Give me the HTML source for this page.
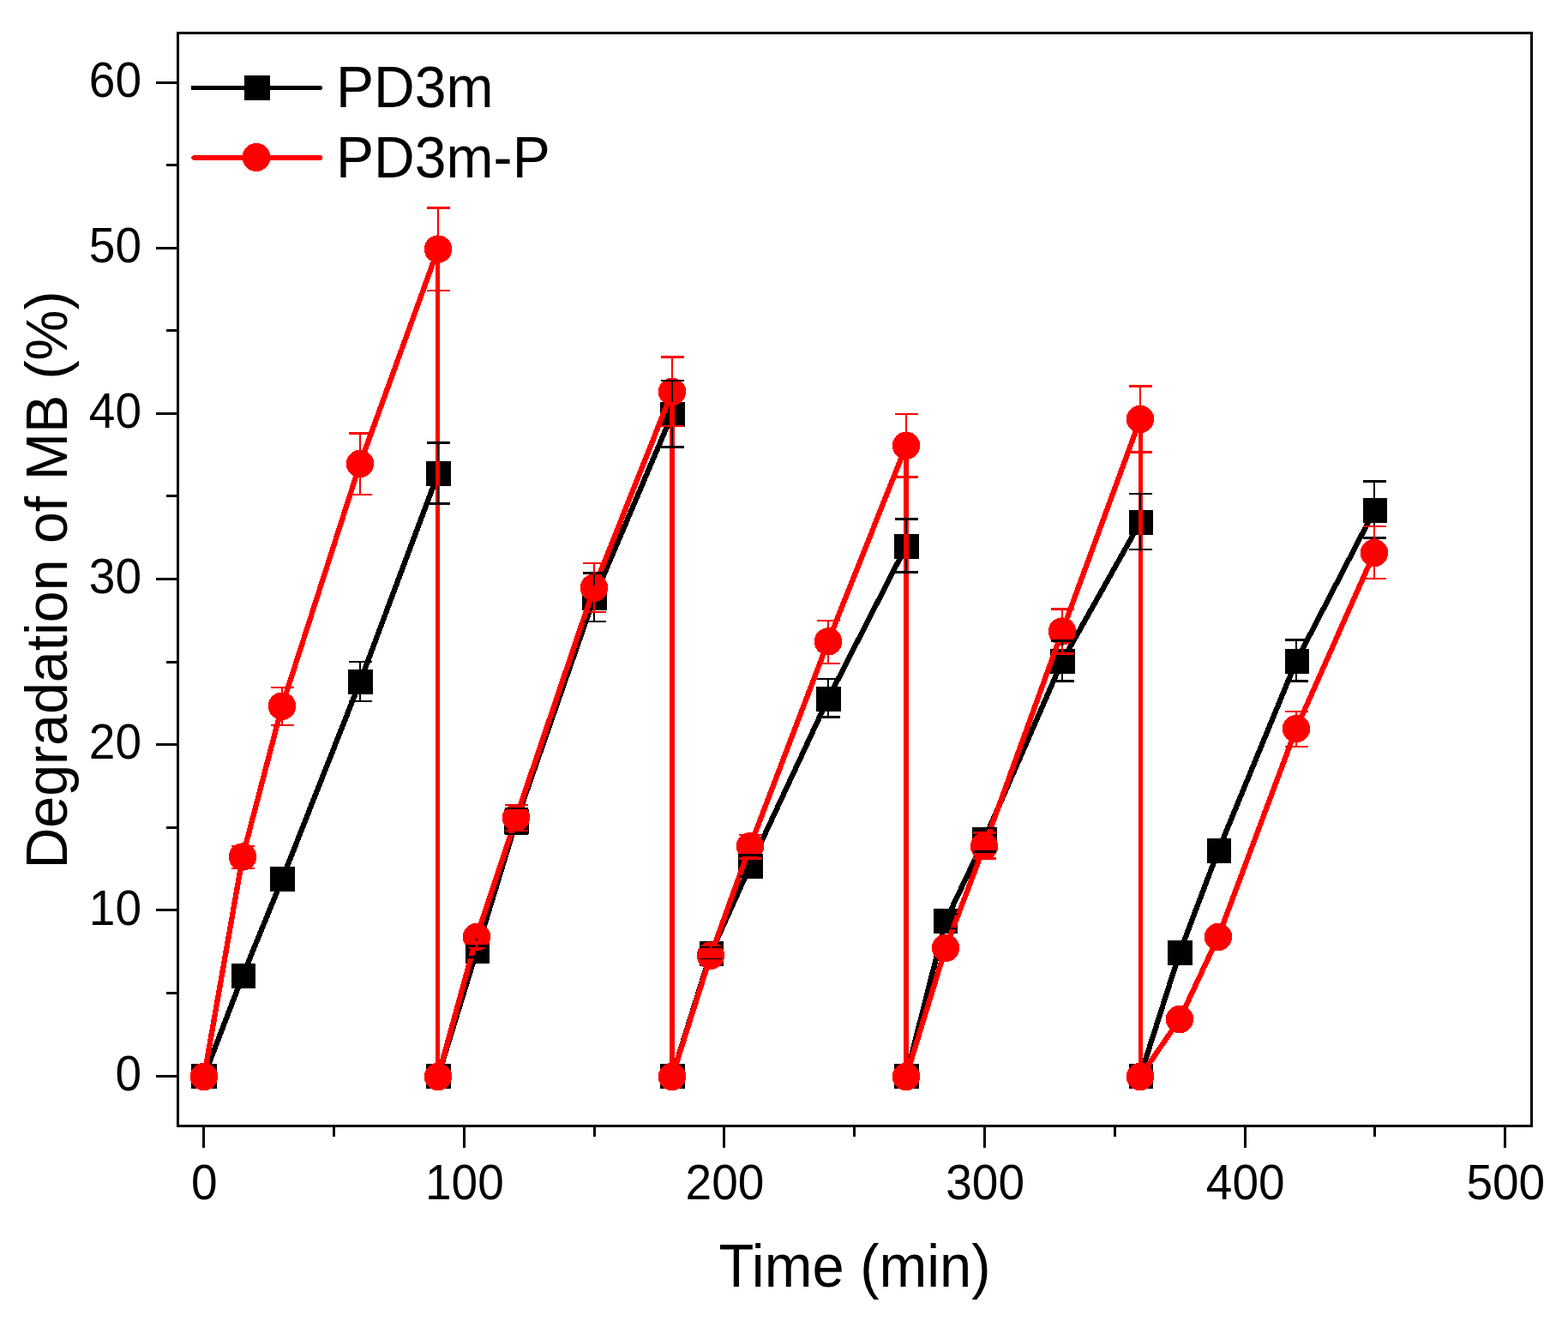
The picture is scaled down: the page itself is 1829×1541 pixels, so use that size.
<!DOCTYPE html>
<html lang="en"><head><meta charset="utf-8"><title>Degradation of MB (%) vs Time (min)</title>
<style>
html,body{margin:0;padding:0;background:#fff;}
body{width:1829px;height:1541px;overflow:hidden;}
svg{display:block;}
text{font-family:"Liberation Sans",Arial,Helvetica,sans-serif;fill:#000;}
</style></head><body>
<svg width="1829" height="1541" viewBox="0 0 1829 1541" shape-rendering="crispEdges">
<rect x="0" y="0" width="1829" height="1541" fill="#ffffff"/>
<g stroke="#000" stroke-width="3" fill="none" stroke-linecap="butt">
<rect x="207.5" y="38.5" width="1578.5" height="1275"/>
<line x1="182" y1="1255.5" x2="207.5" y2="1255.5"/>
<line x1="194" y1="1158.5" x2="207.5" y2="1158.5"/>
<line x1="182" y1="1061.5" x2="207.5" y2="1061.5"/>
<line x1="194" y1="965.5" x2="207.5" y2="965.5"/>
<line x1="182" y1="868.5" x2="207.5" y2="868.5"/>
<line x1="194" y1="772.5" x2="207.5" y2="772.5"/>
<line x1="182" y1="675.5" x2="207.5" y2="675.5"/>
<line x1="194" y1="578.5" x2="207.5" y2="578.5"/>
<line x1="182" y1="482.5" x2="207.5" y2="482.5"/>
<line x1="194" y1="385.5" x2="207.5" y2="385.5"/>
<line x1="182" y1="289.5" x2="207.5" y2="289.5"/>
<line x1="194" y1="192.5" x2="207.5" y2="192.5"/>
<line x1="182" y1="96.5" x2="207.5" y2="96.5"/>
<line x1="237.6" y1="1313.5" x2="237.6" y2="1339"/>
<line x1="389.4" y1="1313.5" x2="389.4" y2="1326"/>
<line x1="541.2" y1="1313.5" x2="541.2" y2="1339"/>
<line x1="693" y1="1313.5" x2="693" y2="1326"/>
<line x1="844.8" y1="1313.5" x2="844.8" y2="1339"/>
<line x1="996.6" y1="1313.5" x2="996.6" y2="1326"/>
<line x1="1148.4" y1="1313.5" x2="1148.4" y2="1339"/>
<line x1="1300.2" y1="1313.5" x2="1300.2" y2="1326"/>
<line x1="1452" y1="1313.5" x2="1452" y2="1339"/>
<line x1="1603.8" y1="1313.5" x2="1603.8" y2="1326"/>
<line x1="1755.6" y1="1313.5" x2="1755.6" y2="1339"/>
</g>
<text transform="translate(165,1271.7) scale(1,1.04)" font-size="55" text-anchor="end">0</text>
<text transform="translate(165,1078.53) scale(1,1.04)" font-size="55" text-anchor="end">10</text>
<text transform="translate(165,885.366) scale(1,1.04)" font-size="55" text-anchor="end">20</text>
<text transform="translate(165,692.199) scale(1,1.04)" font-size="55" text-anchor="end">30</text>
<text transform="translate(165,499.032) scale(1,1.04)" font-size="55" text-anchor="end">40</text>
<text transform="translate(165,305.865) scale(1,1.04)" font-size="55" text-anchor="end">50</text>
<text transform="translate(165,112.698) scale(1,1.04)" font-size="55" text-anchor="end">60</text>
<text transform="translate(238.3,1399.4) scale(1,1.04)" font-size="55" text-anchor="middle">0</text>
<text transform="translate(541.9,1399.4) scale(1,1.04)" font-size="55" text-anchor="middle">100</text>
<text transform="translate(845.5,1399.4) scale(1,1.04)" font-size="55" text-anchor="middle">200</text>
<text transform="translate(1149.1,1399.4) scale(1,1.04)" font-size="55" text-anchor="middle">300</text>
<text transform="translate(1452.7,1399.4) scale(1,1.04)" font-size="55" text-anchor="middle">400</text>
<text transform="translate(1756.3,1399.4) scale(1,1.04)" font-size="55" text-anchor="middle">500</text>
<text transform="translate(997,1501) scale(1,1.04)" font-size="66.9" text-anchor="middle">Time (min)</text>
<text transform="translate(78,676.5) rotate(-90) scale(1,1.04)" font-size="66.3" text-anchor="middle">Degradation of MB (%)</text>
<path d="M238 1255.5L283 1138.5M283 1138.5L329 1025.9M329 1025.9L420 795.3M420 795.3L511 552.3M511 1255.5L556 1109.5M556 1109.5L602 958.4M602 958.4L693 697.3M693 697.3L784 483.5M784 1255.5L829 1112.3M829 1112.3L875 1010.2M875 1010.2L966 815M966 815L1057 637M1057 1255.5L1103 1074.5M1103 1074.5L1148 979.7M1148 979.7L1239 771.2M1239 771.2L1330 609.3M1330 1255.5L1376 1111.5M1376 1111.5L1421 992.4M1421 992.4L1512 771.4M1512 771.4L1603 595.5" fill="none" stroke="#000" stroke-width="6.3" stroke-linecap="round"/>
<path d="M784 483.5V1255.5M1057 637V1255.5M1330.4 609.3V1255.5" fill="none" stroke="#000" stroke-width="5.8" stroke-linecap="butt"/>
<path d="M510.5 552.3V1255.5" fill="none" stroke="#000" stroke-width="4.9" stroke-linecap="butt"/>
<g fill="#000">
<rect x="223" y="1241" width="30" height="29"/>
<rect x="270" y="1124" width="28" height="29"/>
<rect x="315" y="1011.4" width="29" height="29"/>
<rect x="406" y="780.8" width="29" height="29"/>
<rect x="497" y="537.8" width="29" height="29"/>
<rect x="497" y="1241" width="29" height="29"/>
<rect x="543" y="1095" width="28" height="29"/>
<rect x="588" y="943.9" width="29" height="29"/>
<rect x="679" y="682.8" width="29" height="29"/>
<rect x="770" y="469" width="29" height="29"/>
<rect x="770" y="1241" width="29" height="29"/>
<rect x="816" y="1097.8" width="28" height="29"/>
<rect x="861" y="995.7" width="29" height="29"/>
<rect x="952" y="800.5" width="29" height="29"/>
<rect x="1043" y="622.5" width="29" height="29"/>
<rect x="1043" y="1241" width="29" height="29"/>
<rect x="1089" y="1060" width="28" height="29"/>
<rect x="1134" y="965.2" width="29" height="29"/>
<rect x="1225" y="756.7" width="29" height="29"/>
<rect x="1317" y="594.8" width="28" height="29"/>
<rect x="1317" y="1241" width="28" height="29"/>
<rect x="1362" y="1097" width="29" height="29"/>
<rect x="1408" y="977.9" width="28" height="29"/>
<rect x="1499" y="756.9" width="28" height="29"/>
<rect x="1590" y="581" width="28" height="29"/>
</g>
<path d="M238 1256L283 999.5M283 999.5L329 823.7M329 823.7L420 541M420 541L511 290.6M511 1256L556 1093M556 1093L602 954M602 954L693 685.7M693 685.7L784 457M784 1256L829 1114.7M829 1114.7L875 987.1M875 987.1L966 748.4M966 748.4L1057 519.8M1057 1256L1103 1105.8M1103 1105.8L1148 987.3M1148 987.3L1239 736.5M1239 736.5L1330 489M1330 1256L1376 1189M1376 1189L1421 1093M1421 1093L1512 850.1M1512 850.1L1603 645" fill="none" stroke="#ff0000" stroke-width="6.3" stroke-linecap="round"/>
<path d="M784 457V1256M1057 519.8V1256M1330.4 489V1256" fill="none" stroke="#ff0000" stroke-width="5.8" stroke-linecap="butt"/>
<path d="M510.5 290.6V1256" fill="none" stroke="#ff0000" stroke-width="4.9" stroke-linecap="butt"/>
<g fill="#ff0000">
<circle cx="238" cy="1256" r="16.2"/>
<circle cx="283" cy="999.5" r="16.2"/>
<circle cx="329" cy="823.7" r="16.2"/>
<circle cx="420" cy="541" r="16.2"/>
<circle cx="511" cy="290.6" r="16.2"/>
<circle cx="511" cy="1256" r="16.2"/>
<circle cx="556" cy="1093" r="16.2"/>
<circle cx="602" cy="954" r="16.2"/>
<circle cx="693" cy="685.7" r="16.2"/>
<circle cx="784" cy="457" r="16.2"/>
<circle cx="784" cy="1256" r="16.2"/>
<circle cx="829" cy="1114.7" r="16.2"/>
<circle cx="875" cy="987.1" r="16.2"/>
<circle cx="966" cy="748.4" r="16.2"/>
<circle cx="1057" cy="519.8" r="16.2"/>
<circle cx="1057" cy="1256" r="16.2"/>
<circle cx="1103" cy="1105.8" r="16.2"/>
<circle cx="1148" cy="987.3" r="16.2"/>
<circle cx="1239" cy="736.5" r="16.2"/>
<circle cx="1330" cy="489" r="16.2"/>
<circle cx="1330" cy="1256" r="16.2"/>
<circle cx="1376" cy="1189" r="16.2"/>
<circle cx="1421" cy="1093" r="16.2"/>
<circle cx="1512" cy="850.1" r="16.2"/>
<circle cx="1603" cy="645" r="16.2"/>
</g>
<path d="M283 1135V1124M283 1153V1142M329 1021V1011.4M329 1040.4V1031M420 772V780.8M420 809.8V818M511 516.6V537.8M511 566.8V587.5M556 1103.5V1095M556 1124V1116.5M602 943V943.9M602 972.9V973M693 668.5V682.8M693 711.8V725M784 443.9V469M784 498V521.3M829 1105V1097.8M829 1126.8V1119.2M875 997.7V995.7M875 1024.7V1022.5M966 792V800.5M966 829.5V836.7M1057 605.4V622.5M1057 651.5V667.4M1103 1066V1060M1103 1089V1083M1148 965.8V965.2M1148 994.2V993.5M1239 747.2V756.7M1239 785.7V794.7M1330 575.9V594.8M1330 623.8V641.1M1376 1107V1097M1376 1126V1116M1421 986V977.9M1421 1006.9V998.5M1512 746.7V756.9M1512 785.9V794.6M1603 561.5V581M1603 610V627.6" fill="none" stroke="#000" stroke-width="2.5"/>
<path d="M269.5 1135H296.5M269.5 1142H296.5M315.5 1021H342.5M315.5 1031H342.5M406.5 772H433.5M406.5 818H433.5M497.5 516.6H524.5M497.5 587.5H524.5M542.5 1103.5H569.5M542.5 1116.5H569.5M588.5 943H615.5M588.5 973H615.5M679.5 668.5H706.5M679.5 725H706.5M770.5 443.9H797.5M770.5 521.3H797.5M815.5 1105H842.5M815.5 1119.2H842.5M861.5 997.7H888.5M861.5 1022.5H888.5M952.5 792H979.5M952.5 836.7H979.5M1043.5 605.4H1070.5M1043.5 667.4H1070.5M1089.5 1066H1116.5M1089.5 1083H1116.5M1134.5 965.8H1161.5M1134.5 993.5H1161.5M1225.5 747.2H1252.5M1225.5 794.7H1252.5M1316.5 575.9H1343.5M1316.5 641.1H1343.5M1362.5 1107H1389.5M1362.5 1116H1389.5M1407.5 986H1434.5M1407.5 998.5H1434.5M1498.5 746.7H1525.5M1498.5 794.6H1525.5M1589.5 561.5H1616.5M1589.5 627.6H1616.5" fill="none" stroke="#000" stroke-width="2.6"/>
<path d="M283 986.9V983.5M283 1015.5V1012.9M329 802V807.7M329 839.7V846M420 505.5V525M420 557V577.1M511 242.6V274.6M511 306.6V338.9M556 1088V1077M556 1109V1098M602 939V938M602 970V969.1M693 657V669.7M693 701.7V714M784 416.4V441M784 473V496.9M829 1109V1098.7M829 1130.7V1120M875 973.8V971.1M875 1003.1V1001.5M966 724V732.4M966 764.4V774.1M1057 482.8V503.8M1057 535.8V556.6M1103 1100.5V1089.8M1103 1121.8V1111M1148 971.6V971.3M1148 1003.3V1001.5M1239 710.6V720.5M1239 752.5V762.3M1330 450.5V473M1330 505V527.4M1376 1186V1173M1376 1205V1192M1421 1088V1077M1421 1109V1098M1512 829.9V834.1M1512 866.1V870.8M1603 613.8V629M1603 661V674.8" fill="none" stroke="#ff0000" stroke-width="2.5"/>
<path d="M269.5 986.9H296.5M269.5 1012.9H296.5M315.5 802H342.5M315.5 846H342.5M406.5 505.5H433.5M406.5 577.1H433.5M497.5 242.6H524.5M497.5 338.9H524.5M542.5 1088H569.5M542.5 1098H569.5M588.5 939H615.5M588.5 969.1H615.5M679.5 657H706.5M679.5 714H706.5M770.5 416.4H797.5M770.5 496.9H797.5M815.5 1109H842.5M815.5 1120H842.5M861.5 973.8H888.5M861.5 1001.5H888.5M952.5 724H979.5M952.5 774.1H979.5M1043.5 482.8H1070.5M1043.5 556.6H1070.5M1089.5 1100.5H1116.5M1089.5 1111H1116.5M1134.5 971.6H1161.5M1134.5 1001.5H1161.5M1225.5 710.6H1252.5M1225.5 762.3H1252.5M1316.5 450.5H1343.5M1316.5 527.4H1343.5M1362.5 1186H1389.5M1362.5 1192H1389.5M1407.5 1088H1434.5M1407.5 1098H1434.5M1498.5 829.9H1525.5M1498.5 870.8H1525.5M1589.5 613.8H1616.5M1589.5 674.8H1616.5" fill="none" stroke="#ff0000" stroke-width="2.6"/>
<path d="M223 102.5H374.5" stroke="#000" stroke-width="5" fill="none"/>
<path d="M370 102.5H373.7" stroke="#000" stroke-width="5" stroke-linecap="round" fill="none"/>
<rect x="285" y="88" width="30" height="29" fill="#000"/>
<path d="M226 184H373.3" stroke="#ff0000" stroke-width="5.6" stroke-linecap="round" fill="none"/>
<circle cx="299" cy="183.5" r="16.4" fill="#ff0000"/>
<text transform="translate(392,125) scale(1,1.045)" font-size="66.1" text-anchor="start">PD3m</text>
<text transform="translate(392,207) scale(1,1.045)" font-size="66.1" text-anchor="start">PD3m-P</text>
</svg>
</body></html>
